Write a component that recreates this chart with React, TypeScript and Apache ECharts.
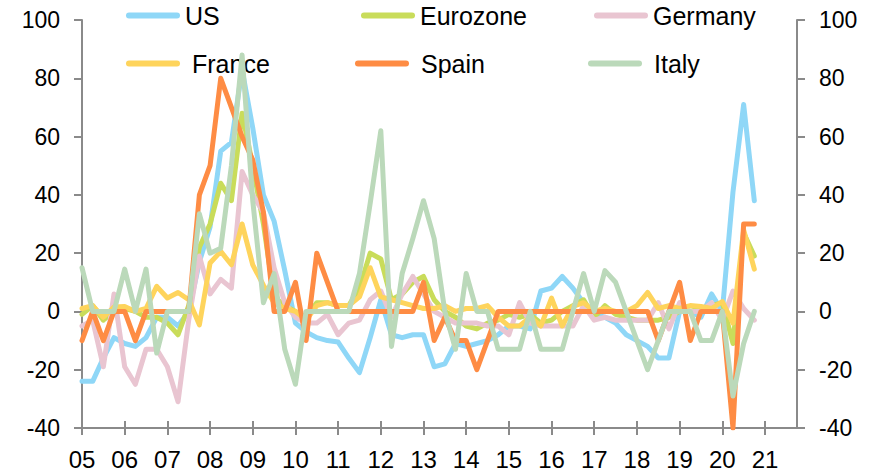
import React, { useEffect, useRef } from "react";
import * as echarts from "echarts";

const years = ["05","06","07","08","09","10","11","12","13","14","15","16","17","18","19","20","21"];
const quarters = ["Q1","Q2","Q3","Q4"];
const categories: string[] = [];
years.forEach((y) => quarters.forEach((q) => categories.push(y + q)));

const seriesNames = ["US", "Eurozone", "Germany", "France", "Spain", "Italy"];
const seriesColors = ["#8fd7f7", "#c9dc5a", "#e9c5d1", "#fed45c", "#fe8c44", "#bbd9ba"];

const us = [-24,-24,-16,-9,-11,-12,-9,-2,-2,-5,0,17,29,55,58,83,63,40,31,14,-4,-7,-9,-10,-10.5,-16,-21,-9,4,-8,-9,-8,-8,-19,-18,-11,-12,-11,-10,-8,-5,-5,-6,7,8,12,8,3,-1,-2,-4,-8,-10,-12,-16,-16,0,0,-2,6,0,41,71,38];
const eurozone = [-1,2,-3,0,1,0,-2,-2,-4,-8,2,22,30,44,38,68,50,30,5,2,0,-2,3,3,2,2,8,20,18,4,6,10,12,4,0,-2,-5,-6,-4,-3,-1,-2,-1,-4,-3,0,2,4,-2,2,-1,-2,-3,-3,-3,-2,0,0,1,2,3,-11,27,19];
const germany = [-5,-3,-19,6,-19,-25,-13,-13,-19,-31,-3,19,6,11,8,48,40,34,15,3,-2,-4,-4,-1,-8,-4,-3,4,7,-2,6,12,6,0,-2,-4,-4,-4,-5,-5,-8,3,-4,-5,-5,-5,-5,2,-3,-2,-3,-3,-3,-3,3,-6,3,0,0,3,-3,7,1,-3];
const france = [1,2,-2,1.5,1.7,0,1,8.6,4.6,6.5,4,-4.6,16.6,20.6,16,30,16,9,3,1,0,-3,2,3,2,2,5,15,5,4,3,2,1,1,2,0,1,1,2,-2,-5,-5,-2,-5,4.6,-5,1.7,3,0,1,0,0,2,6.5,1,2,1,2,1.7,1,3.4,-4,28,14.5];
const spain = [-10,0,-10,0,0,-10,0,0,0,0,0,40,50,80,70,60,52,34,0,0,10,-10,20,10,0,0,0,0,0,0,0,0,10,-10,-2,-10,-10,-20,-10,0,0,0,0,0,0,0,0,0,0,0,0,0,0,0,-10,0,10,-10,0,0,0,-40,30,30];
const italy = [15,0,0,0,14.5,0,14.5,-14.3,0,0,0,33.5,20,21.7,50,88,38,3,13,-13,-25,0,0,0,0,0,13,37,62,-12,13,25,38,25,0,-13,13,0,0,-13,-13,-13,0,-13,-13,-13,0,13,0,14,10,0,-10,-20,-10,0,0,0,-10,-10,0,-29,-11,0];

const seriesData = [us, eurozone, germany, france, spain, italy];

const yMin = -40;
const yMax = 100;
const yStep = 20;

export default function App() {
  const ref = useRef<HTMLDivElement>(null);
  useEffect(() => {
    if (!ref.current) return;
    const chart = echarts.init(ref.current, undefined, { renderer: "svg" });
    const font = "Liberation Sans, Arial, sans-serif";
    const axisColor = "#8a8a8a";
    const axisLineStyle = { color: axisColor, width: 2 };

    const legendLeft = [126, 361, 594, 126, 355, 588];
    const legendTop = [3, 3, 3, 51, 51, 51];
    const legendPad = [0, 0, 0, 7, 7, 7];

    const option: any = {
      animation: false,
      textStyle: { fontFamily: font },
      grid: { left: 82, right: 84, top: 20, bottom: 44 },
      legend: seriesNames.map((n, k) => ({
        data: [n],
        left: legendLeft[k],
        top: legendTop[k],
        padding: 0,
        itemWidth: 54,
        itemHeight: 6,
        icon: "path://M3,0 L51,0 A3,3 0 0 1 51,6 L3,6 A3,3 0 0 1 3,0 Z",
        textStyle: {
          fontSize: 25,
          color: "#000",
          fontFamily: font,
          padding: [0, 0, 0, legendPad[k]],
        },
        selectedMode: false,
      })),
      xAxis: [
        {
          type: "category",
          data: categories,
          boundaryGap: false,
          axisLine: { onZero: false, lineStyle: axisLineStyle },
          axisTick: { interval: 3, length: 7, lineStyle: axisLineStyle },
          axisLabel: {
            interval: 3,
            formatter: (v: string) => v.slice(0, 2),
            color: "#000",
            fontSize: 24,
            margin: 19,
            fontFamily: font,
          },
          splitLine: { show: false },
        },
        {
          type: "category",
          data: categories,
          boundaryGap: false,
          position: "bottom",
          axisLine: { show: false, onZero: false },
          axisTick: { inside: true, interval: 3, length: 7, lineStyle: axisLineStyle },
          axisLabel: { show: false },
          splitLine: { show: false },
        },
      ],
      yAxis: [
        {
          type: "value",
          position: "left",
          min: yMin,
          max: yMax,
          interval: yStep,
          axisLine: { show: true, lineStyle: axisLineStyle },
          axisTick: { show: true, length: 8, lineStyle: axisLineStyle },
          axisLabel: { color: "#000", fontSize: 23, margin: 22, fontFamily: font },
          splitLine: { show: false },
        },
        {
          type: "value",
          position: "right",
          min: yMin,
          max: yMax,
          interval: yStep,
          axisLine: { show: true, lineStyle: axisLineStyle },
          axisTick: { show: true, length: 8, lineStyle: axisLineStyle },
          axisLabel: { color: "#000", fontSize: 23, margin: 22, fontFamily: font },
          splitLine: { show: false },
        },
      ],
      series: seriesNames.map((n, k) => ({
        name: n,
        type: "line",
        data: seriesData[k],
        xAxisIndex: 0,
        yAxisIndex: 0,
        showSymbol: false,
        symbol: "none",
        color: seriesColors[k],
        lineStyle: { width: 5, color: seriesColors[k], cap: "round", join: "round" },
        z: 2 + k,
      })),
    };
    chart.setOption(option);
    return () => chart.dispose();
  }, []);
  return (
    <div
      ref={ref}
      style={{ position: "fixed", left: 0, top: 0, width: 881, height: 472, background: "#fff" }}
    />
  );
}
